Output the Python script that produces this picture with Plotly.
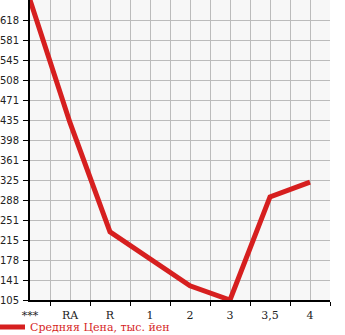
import plotly.graph_objects as go

categories = ["***", "RA", "R", "1", "2", "3", "3,5", "4"]
avg_price = [655, 430, 230, 181, 131, 105, 294, 321]
y_min, y_max = 105, 655
n_steps = 15
tick_vals = [y_min + k * (y_max - y_min) / n_steps for k in range(n_steps)]
tick_text = [str(int(v)) for v in tick_vals]
series_name = "Средняя Цена, тыс. йен"

x_idx = list(range(len(categories)))

fig = go.Figure()
fig.add_trace(go.Scatter(
    x=x_idx, y=avg_price, mode="lines", name=series_name,
    line=dict(color="#d61f1f", width=5), hoverinfo="skip",
))

fig.update_layout(
    width=345, height=335,
    margin=dict(l=30, r=15, t=0, b=35, autoexpand=False),
    paper_bgcolor="white", plot_bgcolor="#f7f7f7",
    showlegend=True,
    legend=dict(
        orientation="h",
        x=-40 / 300, y=-27 / 300,
        xanchor="left", yanchor="middle",
        font=dict(family="DejaVu Serif", size=11, color="#d61f1f"),
        bgcolor="rgba(0,0,0,0)", itemwidth=30,
        borderwidth=0,
    ),
    xaxis=dict(
        range=[0, 7.5], tickmode="array", tickvals=x_idx, ticktext=categories,
        ticks="", showgrid=True, gridcolor="#bbbbbb", gridwidth=1,
        showline=True, linecolor="black", linewidth=2, zeroline=False,
        tickfont=dict(family="DejaVu Serif", size=11, color="#222222"),
        ticklabelstandoff=4, tickangle=0,
        minor=dict(tickmode="array", tickvals=[i + 0.5 for i in x_idx],
                   ticks="outside", ticklen=4, tickcolor="black", tickwidth=1,
                   showgrid=True, gridcolor="#bbbbbb", gridwidth=1),
        fixedrange=True,
    ),
    yaxis=dict(
        range=[y_min, y_max], tickmode="array", tickvals=tick_vals, ticktext=tick_text,
        ticks="outside", ticklen=5, tickcolor="black", tickwidth=1,
        showgrid=True, gridcolor="#bbbbbb", gridwidth=1,
        showline=True, linecolor="black", linewidth=2, zeroline=False,
        tickfont=dict(family="DejaVu Sans", size=10, color="#222222"),
        ticklabelstandoff=2,
        minor=dict(tickmode="array", tickvals=[y_max], ticks="",
                   showgrid=True, gridcolor="#bbbbbb", gridwidth=1),
        fixedrange=True,
    ),
)

fig.write_html("out.html", config={"displayModeBar": False})
